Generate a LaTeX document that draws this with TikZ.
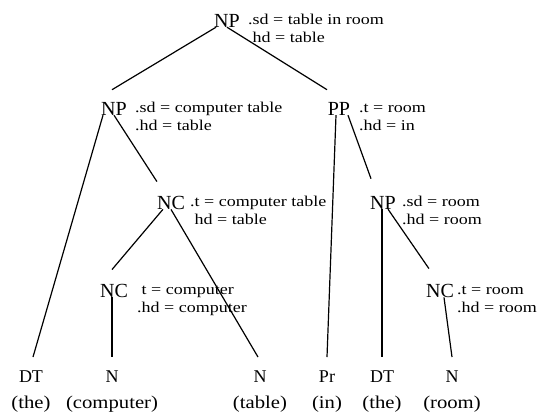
\documentclass[tikz,border=0pt]{standalone}
\usepackage{fontspec}
\setmainfont{Liberation Serif}
\newfontfamily\featfont[FakeStretch=1.2]{Liberation Serif}
\newfontfamily\wordfont[FakeStretch=1.15]{Liberation Serif}
\usetikzlibrary{calc}

\tikzset{
  cat/.style={inner sep=0pt, anchor=base, font=\fontsize{20}{24}\selectfont},
  leafcat/.style={inner sep=0pt, anchor=base, font=\fontsize{18}{22}\selectfont},
  word/.style={inner sep=0pt, anchor=base, font=\wordfont\fontsize{18}{22}\selectfont},
  feat/.style={inner sep=0pt, anchor=base west, font=\featfont\fontsize{15}{18}\selectfont},
  branch/.style={line width=1.2pt},
}
\newcommand\featlines[1]{\begin{tabular}[t]{@{}l@{}}#1\end{tabular}}

\begin{document}
\begin{tikzpicture}[x=1pt,y=-1pt]
\useasboundingbox (0,0) rectangle (547,418);

% phrase and compound nodes
\node[cat] (np0) at (227,27) {NP};
\node[cat] (np1) at (114,115) {NP};
\node[cat] (pp)  at (339,115) {PP};
\node[cat] (nc1) at (171,209) {NC};
\node[cat] (np3) at (383,209) {NP};
\node[cat] (nc2) at (114,297) {NC};
\node[cat] (nc3) at (440,297) {NC};

% feature annotations
\node[feat] (f0) at (248,24)  {\featlines{.sd = table in room\\\phantom{.}hd = table}};
\node[feat] (f1) at (135,112) {\featlines{.sd = computer table\\.hd = table}};
\node[feat] (f2) at (359,112) {\featlines{.t = room\\.hd = in}};
\node[feat] (f3) at (190,206) {\featlines{.t = computer table\\\phantom{.}hd = table}};
\node[feat] (f4) at (402,206) {\featlines{.sd = room\\.hd = room}};
\node[feat] (f5) at (137,294) {\featlines{\phantom{.}t = computer\\.hd = computer}};
\node[feat] (f6) at (457,294) {\featlines{.t = room\\.hd = room}};

% leaves: categories and words
\node[leafcat] (dt1) at (31,382)  {DT};
\node[leafcat] (n1)  at (112,382) {N};
\node[leafcat] (n2)  at (260,382) {N};
\node[leafcat] (pr)  at (327,382) {Pr};
\node[leafcat] (dt2) at (382,382) {DT};
\node[leafcat] (n3)  at (452,382) {N};
\node[word] (w1) at (31,408)  {(the)};
\node[word] (w2) at (112,408) {(computer)};
\node[word] (w3) at (260,408) {(table)};
\node[word] (w4) at (327,408) {(in)};
\node[word] (w5) at (382,408) {(the)};
\node[word] (w6) at (452,408) {(room)};

% branches
\draw[branch] ($(np0.south west)+(2,0)$) -- ($(np1.north)+(-2,-12)$);
\draw[branch] (np0.south) -- ($(pp.north)+(-12,-12)$);
\draw[branch] ($(np1.south west)+(2,0)$) -- ($(dt1.north)+(2,-13)$);
\draw[branch] (np1.south) -- ($(nc1.north west)+(0,-14)$);
\draw[branch] ($(nc1.south west)+(6,0)$) -- ($(nc2.north)+(-2,-14)$);
\draw[branch] (nc1.south) -- ($(n2.north)+(-2,-13)$);
\draw[branch] (n1 |- nc2.south) -- ($(n1.north)+(0,-13)$);
\draw[branch] ($(pp.south)+(-3,0)$) -- ($(pr.north)+(0,-13)$);
\draw[branch] ($(pp.south)+(9,0)$) -- ($(np3.north west)+(1,-17)$);
\draw[branch] (dt2 |- np3.south) -- ($(dt2.north)+(0,-13)$);
\draw[branch] ($(np3.south west)+(18,0)$) -- ($(nc3.north west)+(3,-15)$);
\draw[branch] ($(nc3.south)+(4,0)$) -- ($(n3.north)+(0,-13)$);
\end{tikzpicture}
\end{document}
